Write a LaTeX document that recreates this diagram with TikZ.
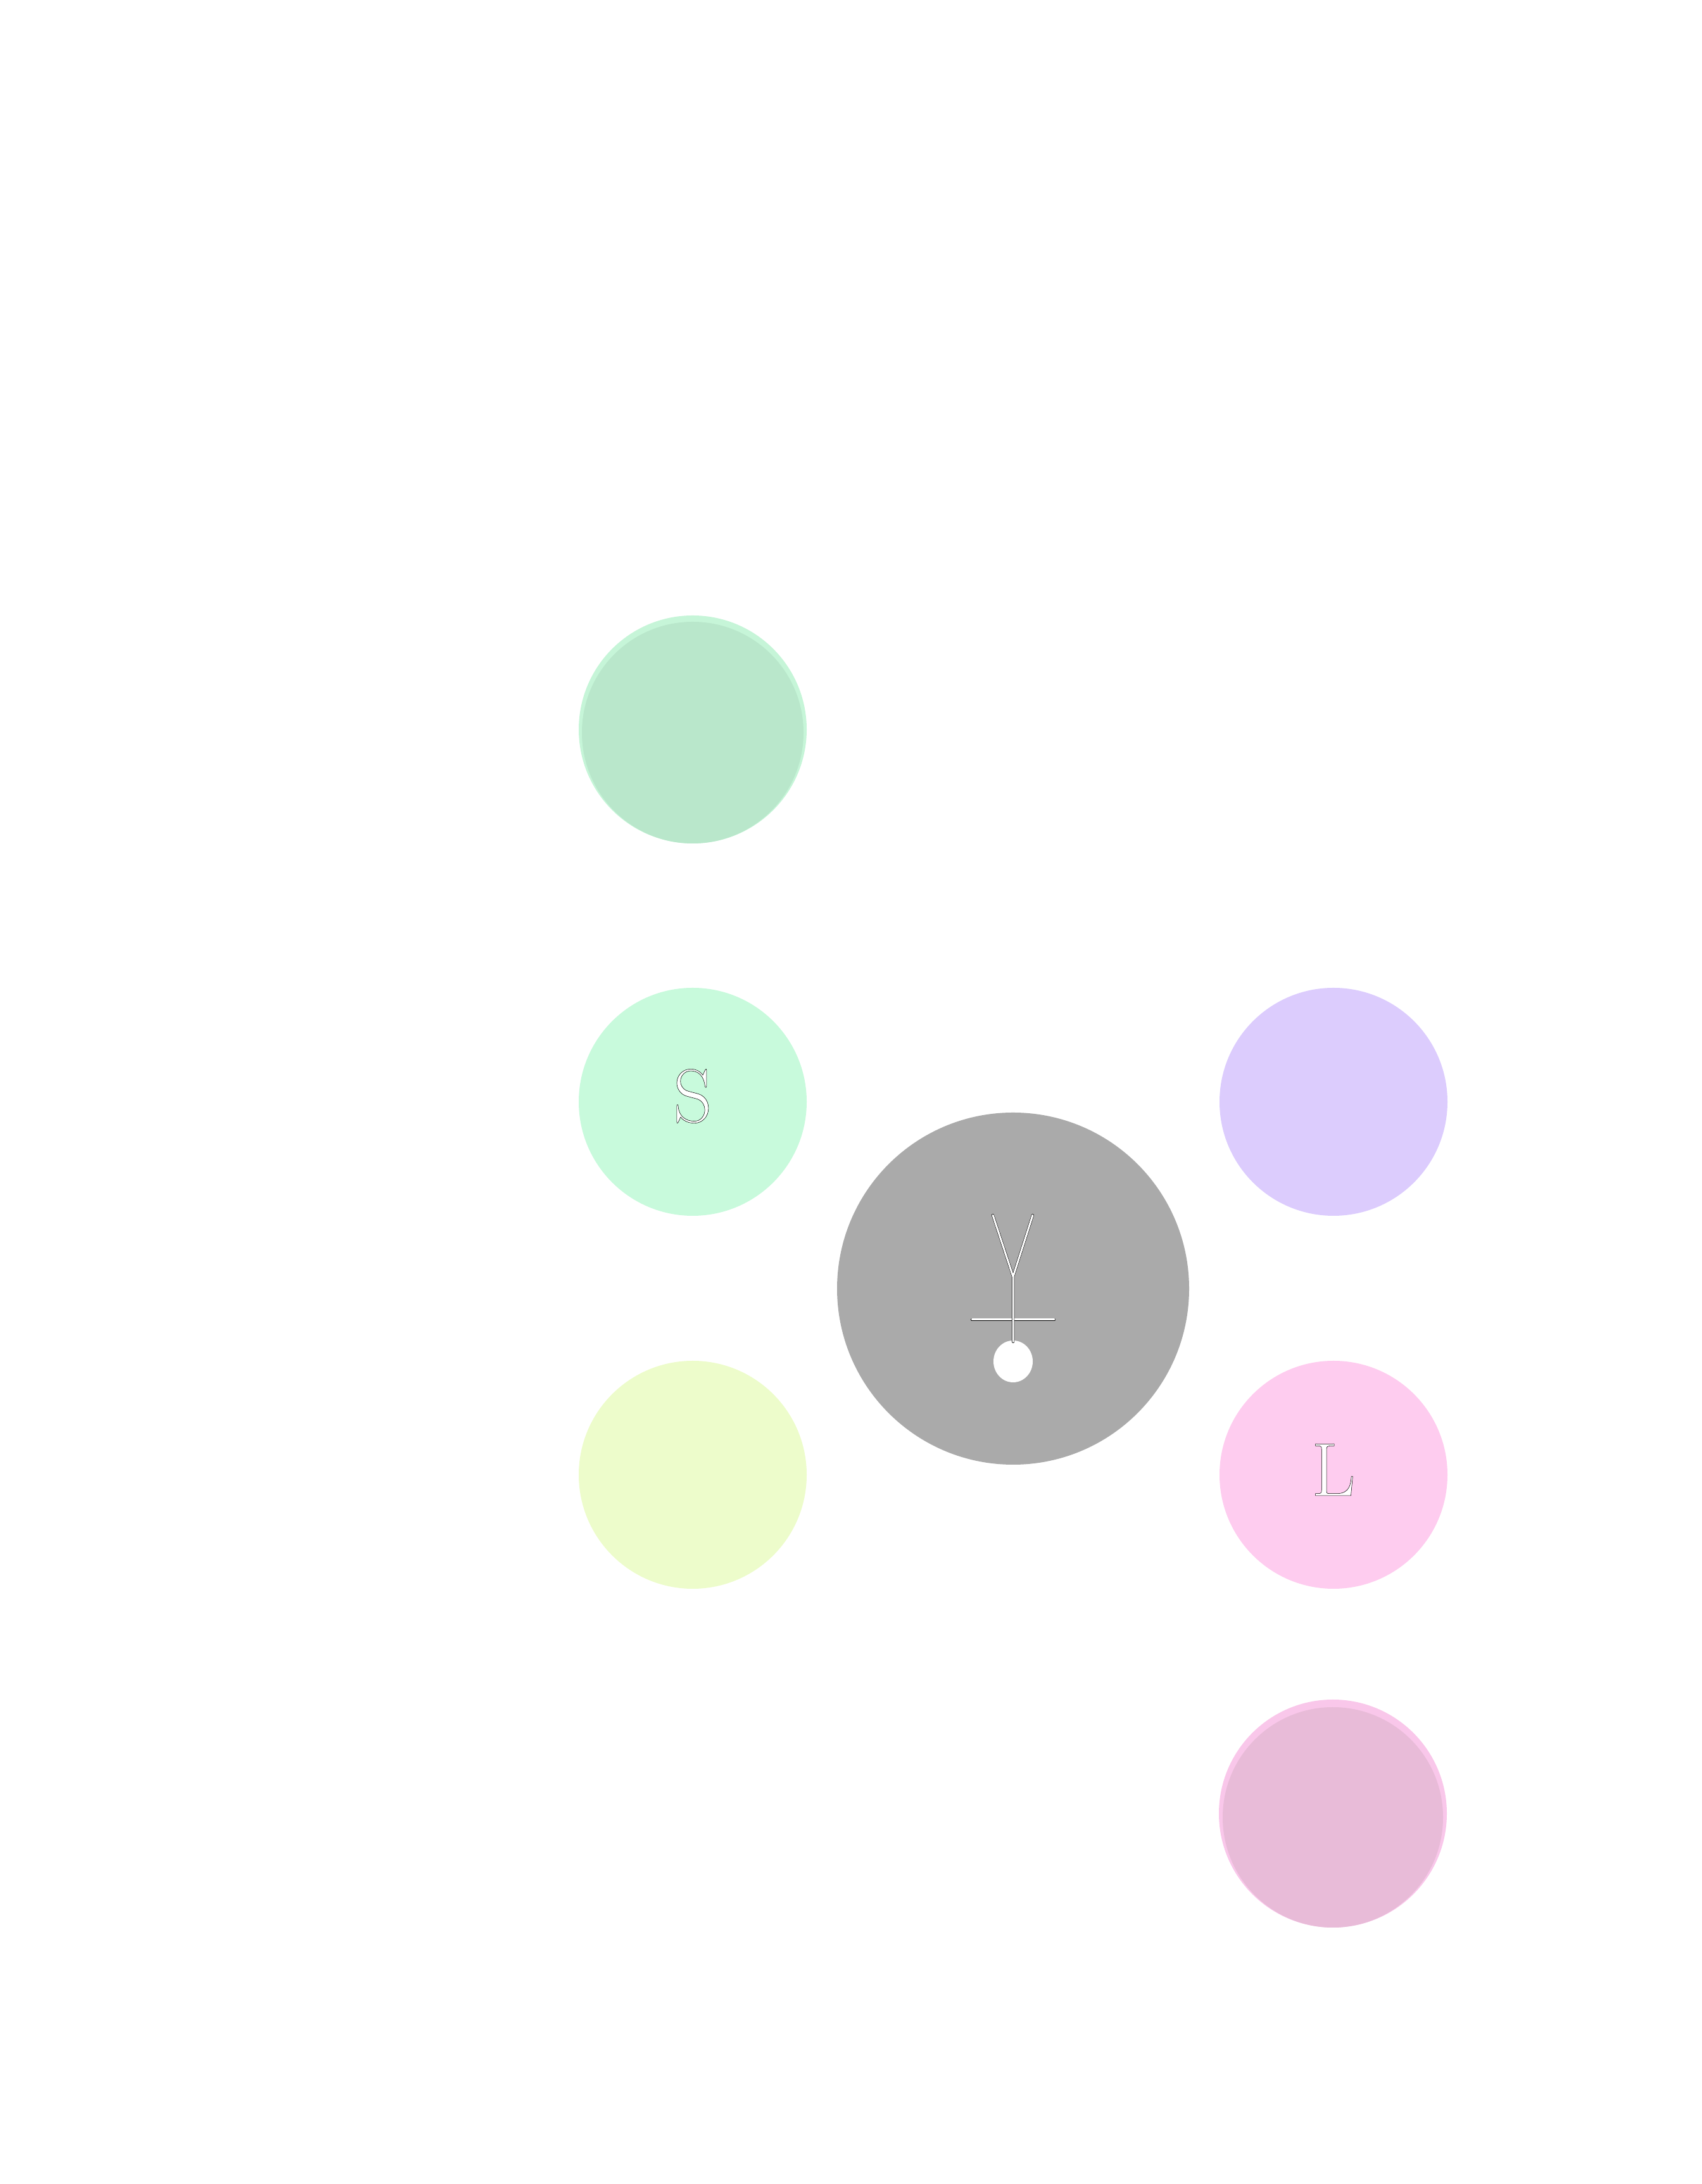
\documentclass[tikz,border=0pt]{standalone}
\usepackage{fontspec}
\usepackage{tikz}
\usetikzlibrary{positioning}
\definecolor{mintc}{HTML}{C8FADC}
\definecolor{mintl}{HTML}{C6F5D8}
\definecolor{mintd}{HTML}{B9E7CB}
\definecolor{lilac}{HTML}{DCCCFD}
\definecolor{pinkc}{HTML}{FECCEF}
\definecolor{pinkl}{HTML}{F9C7EA}
\definecolor{pinkd}{HTML}{E8BBD8}
\definecolor{limec}{HTML}{EDFCCB}
\definecolor{greyc}{HTML}{AAAAAA}
% white letters with a thin dark rim
\newcommand{\rimtext}[1]{\special{pdf:literal direct 2 Tr 0.15 w 0 G}#1\special{pdf:literal direct 0 Tr}}

\begin{document}
\begin{tikzpicture}[
    ball/.style={circle, minimum size=36mm, inner sep=0pt},
    rim/.style={draw=black, double=white, line width=0.15pt,
                double distance=0.85pt, line cap=round, line join=round},
    letter/.style={text=white, font=\fontsize{34}{40}\selectfont}]
  \useasboundingbox (0,0) rectangle (26.88,34.49);
  % left column
  \node[ball, fill=mintl] (top) at (10.94,22.97) {};
  \node[ball, fill=mintd, minimum size=35mm] (topd) at (10.94,22.92) {};
  \node[ball, fill=mintc] (s) at (10.94,17.09) {};
  \node[letter] (slabel) at (10.94,17.18) {\rimtext{S}};
  \node[ball, fill=limec] (low) at (10.94,11.20) {};
  % right column
  \node[ball, fill=lilac] (up) at (21.06,17.09) {};
  \node[ball, fill=pinkc] (l) at (21.06,11.20) {};
  \node[letter] (llabel) at (21.06,11.28) {\rimtext{L}};
  \node[ball, fill=pinkl] (bot) at (21.05,5.85) {};
  \node[ball, fill=pinkd, minimum size=34.8mm] (botd) at (21.05,5.79) {};
  % middle
  \node[circle, fill=greyc, minimum size=55.6mm, inner sep=0pt] (mid)
        at (16.00,14.14) {};
  \coordinate (fl) at (15.68,15.30);
  \coordinate (fr) at (16.31,15.30);
  \coordinate (fj) at (16.00,14.33);
  \coordinate (fs) at (16.00,13.30);
  \coordinate (bl) at (15.35,13.65);
  \coordinate (br) at (16.65,13.65);
  \fill[white] (16.00,12.99) ellipse (0.31 and 0.33);
  \draw[rim] (bl) -- (br);
  \draw[rim] (fl) -- (fj) -- (fr) (fj) -- (fs);
\end{tikzpicture}
\end{document}
